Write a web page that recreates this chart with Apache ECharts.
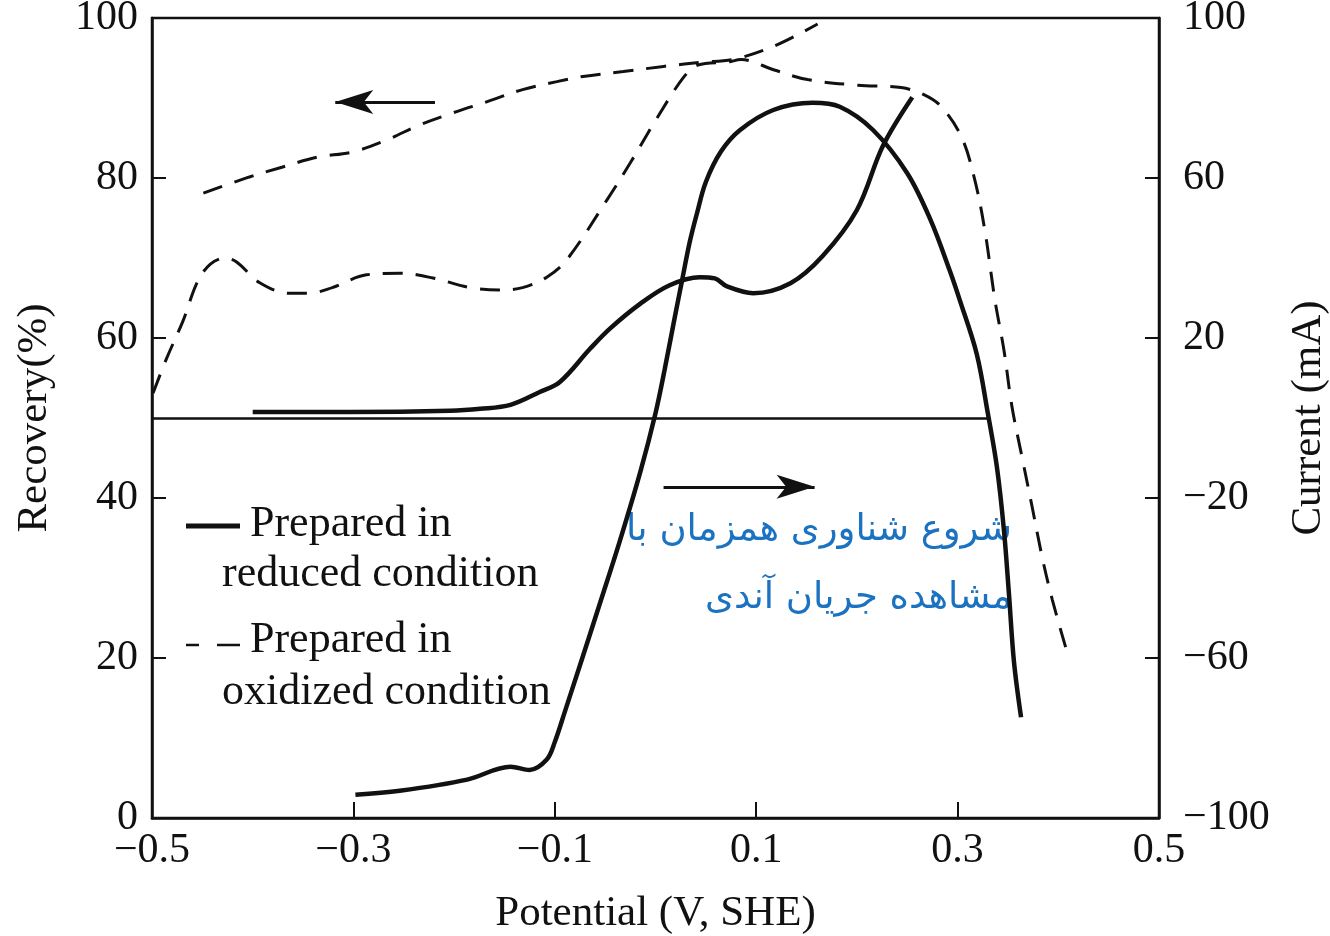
<!DOCTYPE html>
<html>
<head>
<meta charset="utf-8">
<script src="https://cdn.jsdelivr.net/npm/echarts@6/dist/echarts.min.js"></script>
<style>
  html, body { margin: 0; padding: 0; background: #fff; }
  #chart { width: 1330px; height: 936px; }
</style>
</head>
<body>
<div id="chart"></div>
<script>
// potential (V, SHE) ticks
const potentialTicks = [-0.5, -0.3, -0.1, 0.1, 0.3, 0.5];
const currentTicks = [-100, -60, -20, 20, 60, 100];

// recovery, prepared in reduced condition (left axis, %)
const redRecV = [-0.298, -0.254, -0.187, -0.144, -0.125, -0.108, -0.1, -0.09, -0.075, -0.055, -0.035, -0.015, 0.0, 0.009, 0.019, 0.027, 0.034, 0.041, 0.05, 0.065, 0.084, 0.117, 0.156, 0.183, 0.216, 0.25, 0.273, 0.292, 0.302, 0.319, 0.33, 0.339, 0.346, 0.351, 0.356, 0.363];
const redRecPct = [2.9, 3.4, 4.8, 6.4, 6.0, 7.3, 9.5, 13.3, 19.1, 26.9, 34.8, 43.3, 50.6, 56.0, 62.5, 67.6, 72.0, 75.5, 79.5, 83.3, 86.0, 88.5, 89.4, 88.9, 86.0, 80.6, 74.8, 68.5, 64.8, 58.0, 50.6, 43.9, 36.0, 28.0, 19.5, 12.6];

// current, prepared in reduced condition (right axis, mA)
const redCurV = [-0.4, -0.304, -0.204, -0.174, -0.144, -0.115, -0.095, -0.065, -0.045, -0.015, 0.014, 0.044, 0.059, 0.071, 0.097, 0.134, 0.166, 0.2, 0.226, 0.255];
const redCurMA = [1.5, 1.5, 1.8, 2.3, 3.3, 6.5, 9.0, 17.3, 22.4, 28.6, 33.2, 35.2, 34.9, 32.9, 31.2, 33.7, 40.5, 52.0, 68.1, 80.2];

// recovery, prepared in oxidized condition (left axis, %)
const oxRecV = [-0.499, -0.486, -0.47, -0.45, -0.428, -0.416, -0.393, -0.364, -0.344, -0.321, -0.287, -0.254, -0.221, -0.184, -0.155, -0.132, -0.108, -0.088, -0.048, -0.025, 0.002, 0.028, 0.042, 0.072, 0.085, 0.118, 0.151, 0.201, 0.244, 0.267, 0.284, 0.304, 0.317, 0.327, 0.337, 0.346, 0.354, 0.364, 0.374, 0.384, 0.394, 0.409];
const oxRecPct = [53.1, 57.3, 61.9, 68.1, 70.0, 69.5, 66.9, 65.6, 65.6, 66.3, 67.9, 68.1, 67.5, 66.3, 66.0, 66.3, 67.6, 69.8, 77.3, 81.9, 87.6, 92.6, 94.1, 94.5, 94.8, 93.5, 92.3, 91.6, 91.3, 90.4, 88.9, 85.1, 79.8, 73.5, 64.8, 58.5, 51.4, 45.1, 38.9, 32.6, 27.3, 20.6];

// current, prepared in oxidized condition (right axis, mA)
const oxCurV = [-0.449, -0.404, -0.371, -0.336, -0.301, -0.267, -0.234, -0.201, -0.167, -0.132, -0.098, -0.072, -0.032, 0.008, 0.045, 0.078, 0.118, 0.161];
const oxCurMA = [56.2, 60.2, 62.7, 65.2, 66.5, 69.5, 73.3, 76.3, 79.1, 82.1, 84.1, 85.4, 86.6, 87.9, 88.9, 89.7, 93.0, 98.5];

// arrows: [startV, startPct, endV, endPct]
const leftArrow = [-0.219, 89.5, -0.318, 89.5];
const rightArrow = [0.008, 41.4, 0.158, 41.4];
// zero current line end
const zeroLineEnd = 0.33;

const serif = 'Liberation Serif';
const ink = '#111';

function zip(xs, ys) {
  return xs.map((x, i) => [x, ys[i]]);
}

function minus(v, digits) {
  const s = Math.abs(v).toFixed(digits);
  return v < 0 ? '\u2212' + s : s;
}

const mychart = echarts.init(document.getElementById('chart'));

const solidStyle = { color: ink, width: 4.5, type: 'solid' };
const dashStyle = { color: ink, width: 3, type: [20, 13] };

const option = {
  animation: false,
  backgroundColor: '#fff',
  grid: {
    left: 152,
    right: 171,
    top: 18,
    bottom: 118,
    containLabel: false,
    outerBoundsMode: 'none',
    show: true,
    borderColor: ink,
    borderWidth: 2.5,
  },
  xAxis: {
    type: 'value',
    min: -0.5,
    max: 0.5,
    name: 'Potential (V, SHE)',
    nameLocation: 'middle',
    nameGap: 74,
    nameTextStyle: { fontFamily: serif, fontSize: 43, color: ink },
    axisLine: { show: true, onZero: false, lineStyle: { color: ink, width: 2.5 } },
    axisTick: { show: true, inside: true, length: 16, customValues: potentialTicks, lineStyle: { color: ink, width: 2 } },
    axisLabel: {
      customValues: potentialTicks,
      formatter: (v) => minus(v, 1),
      fontFamily: serif,
      fontSize: 42,
      color: ink,
      margin: 12,
    },
    splitLine: { show: false },
  },
  yAxis: [
    {
      type: 'value',
      min: 0,
      max: 100,
      interval: 20,
      name: 'Recovery(%)',
      nameLocation: 'middle',
      nameRotate: 90,
      nameGap: 96,
      nameTextStyle: { fontFamily: serif, fontSize: 43, color: ink },
      axisLine: { show: true, onZero: false, lineStyle: { color: ink, width: 2.5 } },
      axisTick: { show: true, inside: true, length: 14, lineStyle: { color: ink, width: 2 } },
      axisLabel: { fontFamily: serif, fontSize: 42, color: ink, margin: 14 },
      splitLine: { show: false },
    },
    {
      type: 'value',
      min: -100,
      max: 100,
      position: 'right',
      name: 'Current (mA)',
      nameLocation: 'middle',
      nameRotate: 90,
      nameGap: 128,
      nameTextStyle: { fontFamily: serif, fontSize: 43, color: ink },
      axisLine: { show: true, onZero: false, lineStyle: { color: ink, width: 2.5 } },
      axisTick: { show: true, inside: true, length: 14, customValues: currentTicks, lineStyle: { color: ink, width: 2 } },
      axisLabel: {
        customValues: currentTicks,
        formatter: (v) => minus(v, 0),
        fontFamily: serif,
        fontSize: 42,
        color: ink,
        margin: 24,
      },
      splitLine: { show: false },
    },
  ],
  series: [
    {
      name: 'Recovery reduced',
      type: 'line',
      yAxisIndex: 0,
      data: zip(redRecV, redRecPct),
      showSymbol: false,
      smooth: 0.35,
      lineStyle: solidStyle,
      markLine: {
        silent: true,
        symbol: ['none', 'arrow'],
        symbolSize: [18, 38],
        label: { show: false },
        lineStyle: { color: ink, width: 3, type: 'solid' },
        data: [
          [{ coord: [leftArrow[0], leftArrow[1]] }, { coord: [leftArrow[2], leftArrow[3]] }],
          [{ coord: [rightArrow[0], rightArrow[1]] }, { coord: [rightArrow[2], rightArrow[3]] }],
        ],
      },
    },
    {
      name: 'Current reduced',
      type: 'line',
      yAxisIndex: 1,
      data: zip(redCurV, redCurMA),
      showSymbol: false,
      smooth: 0.35,
      lineStyle: solidStyle,
      markLine: {
        silent: true,
        symbol: 'none',
        label: { show: false },
        lineStyle: { color: ink, width: 2.5, type: 'solid' },
        data: [[{ coord: [-0.5, 0] }, { coord: [zeroLineEnd, 0] }]],
      },
    },
    {
      name: 'Recovery oxidized',
      type: 'line',
      yAxisIndex: 0,
      data: zip(oxRecV, oxRecPct),
      showSymbol: false,
      smooth: 0.35,
      lineStyle: dashStyle,
    },
    {
      name: 'Current oxidized',
      type: 'line',
      yAxisIndex: 1,
      data: zip(oxCurV, oxCurMA),
      showSymbol: false,
      smooth: 0.35,
      lineStyle: dashStyle,
    },
  ],
  graphic: [
    // legend
    { type: 'line', shape: { x1: 186, y1: 526, x2: 240, y2: 526 }, style: { stroke: ink, lineWidth: 5 } },
    { type: 'text', x: 250, y: 524, style: { text: 'Prepared in', font: '44px "Liberation Serif"', fill: ink, verticalAlign: 'middle' } },
    { type: 'text', x: 222, y: 574, style: { text: 'reduced condition', font: '44px "Liberation Serif"', fill: ink, verticalAlign: 'middle' } },
    { type: 'line', shape: { x1: 186, y1: 645, x2: 199, y2: 645 }, style: { stroke: ink, lineWidth: 2.5 } },
    { type: 'line', shape: { x1: 217, y1: 645, x2: 240, y2: 645 }, style: { stroke: ink, lineWidth: 2.5 } },
    { type: 'text', x: 250, y: 640, style: { text: 'Prepared in', font: '44px "Liberation Serif"', fill: ink, verticalAlign: 'middle' } },
    { type: 'text', x: 222, y: 692, style: { text: 'oxidized condition', font: '44px "Liberation Serif"', fill: ink, verticalAlign: 'middle' } },
    // Persian note
    { type: 'text', x: 1012, y: 530, style: { text: 'شروع شناوری همزمان با', font: '37px "DejaVu Sans"', fill: '#1b72c0', align: 'right', verticalAlign: 'middle' } },
    { type: 'text', x: 1012, y: 598, style: { text: 'مشاهده جریان آندی', font: '37px "DejaVu Sans"', fill: '#1b72c0', align: 'right', verticalAlign: 'middle' } },
  ],
};

mychart.setOption(option);

window.addEventListener('resize', () => {
  mychart.resize();
});
</script>
</body>
</html>
